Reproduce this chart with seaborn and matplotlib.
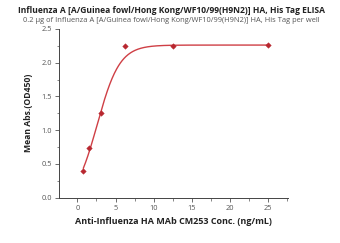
import numpy as np
import pandas as pd
import matplotlib
matplotlib.use("Agg")
import matplotlib.pyplot as plt
import seaborn as sns
from matplotlib.ticker import MultipleLocator

conc = [0.78, 1.56, 3.125, 6.25, 12.5, 25.0]
od450 = [0.40, 0.74, 1.25, 2.24, 2.24, 2.26]
fit_weight = [1, 1, 1, 0.2, 1, 1]  # the 6.25 point sits above the fitted curve
xticks = [0, 5, 10, 15, 20, 25]
yticks = [0.0, 0.5, 1.0, 1.5, 2.0, 2.5]

title = "Influenza A [A/Guinea fowl/Hong Kong/WF10/99(H9N2)] HA, His Tag ELISA"
subtitle = "0.2 \u03bcg of Influenza A [A/Guinea fowl/Hong Kong/WF10/99(H9N2)] HA, His Tag per well"
xlabel = "Anti-Influenza HA MAb CM253 Conc. (ng/mL)"
ylabel = "Mean Abs.(OD450)"

sns.set_theme(style="ticks")
plt.rcParams['font.family'] = ['Open Sans', 'DejaVu Sans']

df = pd.DataFrame({"conc": conc, "od": od450})

# weighted dose-response (logistic) fit: grid over centre/slope,
# linear solve for bottom/top asymptotes
x = np.array(conc)
y = np.array(od450)
w = np.sqrt(np.array(fit_weight, dtype=float))
best = None
for x0 in np.linspace(0.0, 8.0, 321):
    for k in np.linspace(0.1, 3.0, 291):
        g = 1.0 / (1.0 + np.exp(-k * (x - x0)))
        A = np.vstack([1 - g, g]).T
        coef, *_ = np.linalg.lstsq(A * w[:, None], y * w, rcond=None)
        r = np.sum(((A @ coef - y) * w) ** 2)
        if best is None or r < best[0]:
            best = (r, x0, k, coef)
_, x0, k, (a1, a2) = best
xf = np.linspace(min(conc), max(conc), 400)
yf = a1 + (a2 - a1) / (1 + np.exp(-k * (xf - x0)))
fit = pd.DataFrame({"conc": xf, "od": yf})

fig = plt.figure(figsize=(3.4, 2.43), dpi=100)
ax = fig.add_axes([0.1735, 0.187, 0.674, 0.694])
red = "#cf3f45"
sns.lineplot(data=fit, x="conc", y="od", ax=ax, color=red, lw=1.0)
sns.scatterplot(data=df, x="conc", y="od", ax=ax, color="#b8272f", s=8,
                marker="D", edgecolor="#b8272f", linewidth=0.3, zorder=3)

ax.set_xlim(-2.4, 27.6)
ax.set_ylim(0, 2.5)
ax.set_xticks(xticks)
ax.set_yticks(yticks)
ax.set_xticklabels([str(t) for t in xticks])
ax.set_yticklabels([f"{t:.1f}" for t in yticks])
ax.xaxis.set_minor_locator(MultipleLocator(2.5))
ax.yaxis.set_minor_locator(MultipleLocator(0.25))
ax.tick_params(axis="both", which="major", direction="out", length=3, width=0.6,
               color="#555555", labelsize=5.3, labelcolor="#555555", pad=2)
ax.tick_params(axis="both", which="minor", direction="out", length=1.8, width=0.5,
               color="#555555")
for s in ["left", "bottom"]:
    ax.spines[s].set_linewidth(0.7)
    ax.spines[s].set_color("#444444")
sns.despine(ax=ax)

ax.set_xlabel(xlabel, fontsize=6.5, fontweight="bold", color="#222222", labelpad=4)
ax.set_ylabel(ylabel, fontsize=6.2, fontweight="bold", color="#222222", labelpad=6)

fig.text(0.505, 0.955, title, ha="center", va="center", fontsize=6.1,
         fontweight="bold", color="#222222")
fig.text(0.505, 0.915, subtitle, ha="center", va="center", fontsize=5.4,
         color="#555555")

fig.savefig("out.png", dpi=100, facecolor="white")
